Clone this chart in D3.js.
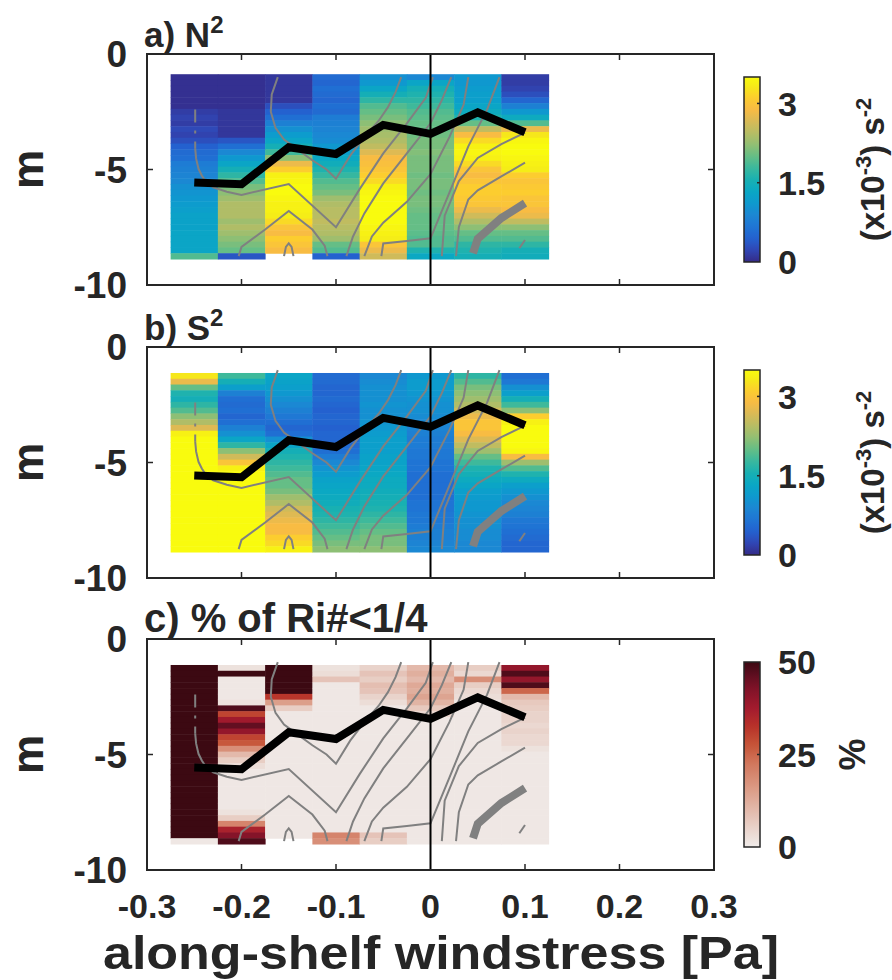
<!DOCTYPE html>
<html>
<head>
<meta charset="utf-8">
<script src="https://cdn.jsdelivr.net/npm/d3@7"></script>
<style>
  body { margin: 0; background: #fff; }
  svg text { font-family: "Liberation Sans", Arial, Helvetica, sans-serif; font-weight: bold; fill: #262626; }
</style>
</head>
<body>
<svg id="chart" width="892" height="980"></svg>
<script>
// bin centres of the wind stress (Pa) and depth (m)
var windstress = [-0.25, -0.2, -0.15, -0.1, -0.05, 0, 0.05, 0.1];
var depthN2 = [-1, -1.25, -1.5, -1.75, -2, -2.25, -2.5, -2.75, -3, -3.25, -3.5, -3.75, -4, -4.25, -4.5, -4.75,
               -5, -5.25, -5.5, -5.75, -6, -6.25, -6.5, -6.75, -7, -7.25, -7.5, -7.75, -8, -8.25, -8.5, -8.75];
var depthS2 = [-1.25, -1.5, -1.75, -2, -2.25, -2.5, -2.75, -3, -3.25, -3.5, -3.75, -4, -4.25, -4.5, -4.75,
               -5, -5.25, -5.5, -5.75, -6, -6.25, -6.5, -6.75, -7, -7.25, -7.5, -7.75, -8, -8.25, -8.5, -8.75];

// N^2 (x10^-3 s^-2), one profile per wind bin
var n2Values = [
  [0.05,0.05,0.05,0.05,0.05,0.05,0.15,0.2,0.15,0.25,0.2,0.3,0.45,0.55,0.6,0.75,0.8,0.85,0.9,1.0,1.05,1.1,1.15,1.2,1.25,1.25,1.25,1.3,1.3,1.3,1.3,1.9],
  [0.05,0.05,0.05,0.05,0.05,0.05,0.1,0.1,0.1,0.1,0.1,0.35,0.6,0.9,1.1,1.3,1.5,1.7,1.9,2.1,2.2,2.3,2.4,2.4,2.4,2.3,2.4,2.3,2.2,2.1,2.0,0.35],
  [0.1,0.1,0.1,0.1,0.1,0.3,0.45,0.6,0.8,1.0,1.15,1.3,1.5,1.8,2.2,2.8,3.1,3.4,3.45,3.5,3.5,3.45,3.4,3.4,3.35,3.2,3.0,2.9,3.1,3.0,2.9,null],
  [0.55,0.5,0.6,0.55,0.5,0.6,0.55,0.75,0.8,0.85,0.9,0.95,1.1,1.2,1.35,1.45,1.6,1.75,1.9,2.0,2.1,2.3,2.4,2.45,2.45,2.5,2.45,2.4,2.3,2.0,1.9,0.45],
  [1.0,1.1,1.3,1.5,1.7,1.9,2.0,2.1,2.2,2.3,2.35,2.4,2.5,2.7,2.9,2.95,3.0,3.1,3.2,3.4,3.45,3.5,3.5,3.5,3.5,3.5,3.45,3.4,3.35,3.0,2.8,2.6],
  [0.9,1.3,1.5,1.6,1.7,1.8,1.9,1.95,2.0,2.0,2.05,2.1,2.1,2.15,2.1,2.1,2.1,2.05,2.1,2.1,2.05,2.1,2.1,2.05,2.0,2.0,2.0,1.95,1.9,1.9,1.6,1.35],
  [1.1,1.1,1.15,1.2,1.2,1.3,1.4,1.6,2.0,2.5,2.9,3.2,3.4,3.45,3.4,3.2,3.0,2.9,3.0,3.1,3.1,3.05,3.0,2.8,2.6,2.4,2.2,2.0,1.9,1.7,1.6,1.5],
  [0.15,0.15,0.2,0.3,0.5,0.8,1.1,1.4,1.9,2.8,3.3,3.45,3.5,3.5,3.45,3.4,3.35,3.1,3.0,3.05,3.1,3.0,3.0,2.9,2.8,2.5,2.2,2.0,1.9,1.7,1.5,1.45]
];

// S^2 (x10^-3 s^-2)
var s2Values = [
  [3.3,2.8,2.0,1.6,1.5,1.7,1.9,2.2,2.4,2.7,3.4,3.5,3.5,3.5,3.5,3.5,3.5,3.5,3.5,3.5,3.5,3.5,3.5,3.5,3.5,3.5,3.5,3.5,3.5,3.5,3.5],
  [1.8,1.5,1.2,0.8,0.6,0.55,0.6,0.5,0.6,0.8,1.0,1.3,1.7,2.2,2.6,3.0,3.4,3.5,3.5,3.5,3.5,3.5,3.5,3.5,3.5,3.5,3.5,3.5,3.5,3.5,3.5],
  [1.3,1.25,1.2,1.1,1.0,0.9,0.8,0.7,0.6,0.5,0.6,1.0,1.3,1.5,1.6,1.7,1.8,1.9,2.0,2.0,2.1,2.3,2.4,2.6,2.7,2.8,2.9,2.9,3.1,3.2,3.4],
  [0.55,0.55,0.5,0.5,0.55,0.5,0.45,0.5,0.5,0.45,0.5,0.5,0.55,0.6,0.75,0.9,1.05,1.15,1.25,1.3,1.35,1.4,1.45,1.55,1.6,1.7,1.8,1.9,2.0,2.1,2.2],
  [0.9,0.95,1.0,1.0,1.0,1.05,1.0,1.0,1.05,1.1,1.15,1.2,1.2,1.2,1.25,1.25,1.3,1.35,1.4,1.4,1.45,1.5,1.55,1.6,1.7,1.8,1.9,2.0,2.1,2.1,2.2],
  [1.1,1.15,1.15,1.1,1.05,1.0,1.0,0.95,0.9,0.85,0.8,0.75,0.75,0.7,0.7,0.65,0.65,0.6,0.6,0.6,0.6,0.6,0.65,0.65,0.7,0.7,0.75,0.8,0.8,0.85,0.9],
  [1.7,1.9,2.1,2.2,2.3,2.4,2.6,2.8,3.0,3.0,2.9,2.7,2.5,2.3,2.0,1.8,1.6,1.5,1.4,1.3,1.2,1.15,1.1,1.1,1.05,1.0,1.0,0.95,0.95,0.9,0.9],
  [0.6,0.7,1.0,1.2,1.5,1.8,2.2,3.1,3.4,3.5,3.5,3.5,3.5,3.45,2.9,2.3,1.9,1.6,1.4,1.2,1.1,1.0,0.9,0.85,0.8,0.7,0.65,0.6,0.55,0.5,0.5]
];

// % of Ri < 1/4
var riValues = [
  [50,50,50,50,50,50,50,50,50,50,50,50,50,50,50,50,50,50,50,50,50,50,50,50,50,50,50,50,50,50,1],
  [2,50,1,1,1,1,2,48,30,38,46,40,30,27,18,10,6,3,1,1,1,1,1,1,1,2,6,20,36,42,48],
  [50,50,50,50,50,32,15,6,1,1,1,1,1,1,1,1,1,1,1,1,1,1,1,1,1,1,1,1,1,1,null],
  [2,3,8,1,1,1,1,1,1,1,1,1,1,1,1,1,1,1,1,1,1,1,1,1,1,1,1,1,1,20,18],
  [5,8,6,9,8,5,3,1,1,1,1,1,1,1,1,1,1,1,1,1,1,1,1,1,1,1,1,1,1,8,6],
  [10,12,10,13,12,14,11,7,4,1,1,1,1,1,1,1,1,1,1,1,1,1,1,1,1,1,1,1,1,1,1],
  [6,4,18,6,4,3,1,1,1,1,1,1,1,1,1,1,1,1,1,1,1,1,1,1,1,1,1,1,1,1,1],
  [40,48,40,48,25,10,7,6,5,5,4,5,4,4,2,1,1,1,1,1,1,1,1,1,1,1,1,1,1,1,1]
];

// mixed layer depth (black line)
var mldDepth = [-5.56, -5.64, -4.04, -4.33, -3.07, -3.46, -2.53, -3.39];

// gray contour lines, [windstress, depth]
var contourDashed = [[-0.249, -2.4], [-0.249, -4.1]];
var contourLines = [
  [[-0.249,-4.1],[-0.248,-4.53],[-0.2455,-4.97],[-0.242,-5.26],[-0.2385,-5.48],[-0.23,-5.77],[-0.2155,-5.96],[-0.2,-6.1],[-0.15,-5.63],[-0.1,-7.5],[-0.075,-5.85],[-0.05,-4.3],[-0.025,-3.0],[-0.005,-1.9],[0.0025,-1.0]],
  [[-0.1616,-1.0],[-0.168,-1.75],[-0.169,-2.5],[-0.164,-3.2],[-0.155,-3.7],[-0.14,-4.15],[-0.125,-4.6],[-0.11,-5.0],[-0.1,-5.4],[-0.085,-4.4],[-0.07,-3.6],[-0.055,-2.9],[-0.045,-2.3],[-0.037,-1.65],[-0.031,-1.0]],
  [[-0.203,-8.75],[-0.2,-8.35],[-0.175,-7.6],[-0.15,-6.8],[-0.125,-7.6],[-0.112,-8.3],[-0.109,-8.75]],
  [[-0.155,-8.75],[-0.153,-8.35],[-0.15,-8.2],[-0.147,-8.35],[-0.145,-8.75]],
  [[-0.089,-8.75],[-0.082,-7.9],[-0.07,-6.9],[-0.05,-5.6],[-0.025,-4.3],[0,-3.0],[0.012,-2.0],[0.022,-1.0]],
  [[-0.07,-8.75],[-0.062,-7.9],[-0.05,-7.3],[-0.025,-6.4],[0,-5.2],[0.02,-3.6],[0.035,-2.2],[0.04,-1.0]],
  [[-0.052,-8.75],[-0.05,-8.2],[-0.025,-8.1],[0,-7.98],[0.02,-6.0],[0.04,-4.0],[0.06,-2.4],[0.073,-1.0]],
  [[0.012,-8.75],[0.015,-7.0],[0.03,-5.5],[0.05,-4.5],[0.075,-3.9],[0.1,-3.4]],
  [[0.027,-8.75],[0.03,-7.5],[0.04,-6.3],[0.05,-5.9],[0.075,-5.3],[0.1,-4.7]],
  [[0.094,-8.41],[0.1,-8.05]]
];
var contourThick = [[0.045,-8.63],[0.05,-8.0],[0.075,-7.1],[0.1,-6.46]];

var xTicks = [-0.3, -0.2, -0.1, 0, 0.1, 0.2, 0.3];
var yTicks = [0, -5, -10];
var cbTicksN2 = [0, 1.5, 3];
var cbTicksRi = [0, 25, 50];

// colormaps
var parulaStops = [0, 0.0635, 0.127, 0.19, 0.254, 0.317, 0.381, 0.444, 0.508, 0.571, 0.635, 0.698, 0.762, 0.825, 0.889, 0.952, 1];
var parulaColors = ["#352a87","#3046b4","#2461cf","#1f75d4","#1c87d3","#0e99cf","#0aa7c4","#18b0b2","#3ab89d",
                    "#65be86","#92bf73","#b7bd64","#d9ba56","#f8bb44","#fcce2e","#f5eb18","#f9fb0e"];
var ampStops = [0, 0.15, 0.3, 0.45, 0.55, 0.65, 0.75, 0.85, 0.93, 1];
var ampColors = ["#f0ecea","#e6c6bb","#dc9f8a","#d1775d","#c65538","#b83229","#a31b2e","#821328","#5e0e20","#3c0912"];

function makeColor(stops, colors, max) {
  return d3.scaleLinear()
    .domain(stops.map(function(t) { return t * max; }))
    .range(colors)
    .clamp(true);
}

var svg = d3.select("#chart");
var defs = svg.append("defs");

var left = 147, right = 714, panelHeight = 231;
var x = d3.scaleLinear().domain([-0.3, 0.3]).range([left, right]);

var panels = [
  { id: "a", top: 54,  label: "a) N", sup: "2", titleSize: 35, values: n2Values, depths: depthN2,
    color: makeColor(parulaStops, parulaColors, 3.5), max: 3.5, cbTicks: cbTicksN2, cbUnit: "s2" },
  { id: "b", top: 347, label: "b) S", sup: "2", titleSize: 35, values: s2Values, depths: depthS2,
    color: makeColor(parulaStops, parulaColors, 3.5), max: 3.5, cbTicks: cbTicksN2, cbUnit: "s2" },
  { id: "c", top: 639, label: "c) % of Ri#<1/4", sup: "", titleSize: 40, values: riValues, depths: depthS2,
    color: makeColor(ampStops, ampColors, 50), max: 50, cbTicks: cbTicksRi, cbUnit: "pct" }
];

panels.forEach(function(p, pi) {
  var y = d3.scaleLinear().domain([0, -10]).range([p.top, p.top + panelHeight]);
  var g = svg.append("g").attr("class", "panel-" + p.id);

  // heatmap cells
  var dx = (windstress[1] - windstress[0]) / 2;
  var dz = (p.depths[0] - p.depths[1]) / 2;
  var cells = [];
  p.values.forEach(function(col, i) {
    col.forEach(function(v, j) {
      if (v != null) cells.push({ xc: windstress[i], zc: p.depths[j], v: v });
    });
  });
  g.append("g").selectAll("rect")
    .data(cells)
    .enter().append("rect")
    .attr("x", function(d) { return x(d.xc - dx); })
    .attr("width", function(d) { return x(d.xc + dx) - x(d.xc - dx) + 0.5; })
    .attr("y", function(d) { return y(d.zc + dz); })
    .attr("height", function(d) { return y(d.zc - dz) - y(d.zc + dz) + 0.5; })
    .attr("fill", function(d) { return p.color(d.v); });

  // contours
  var line = d3.line()
    .x(function(d) { return x(d[0]); })
    .y(function(d) { return y(d[1]); });

  g.append("path")
    .attr("d", line(contourDashed))
    .attr("fill", "none")
    .attr("stroke", "#808080")
    .attr("stroke-width", 2)
    .attr("stroke-dasharray", "13,8,3,8");

  g.append("g").selectAll("path")
    .data(contourLines)
    .enter().append("path")
    .attr("d", line)
    .attr("fill", "none")
    .attr("stroke", "#808080")
    .attr("stroke-width", 2);

  g.append("path")
    .attr("d", line(contourThick))
    .attr("fill", "none")
    .attr("stroke", "#808080")
    .attr("stroke-width", 8);

  // mixed layer depth
  g.append("path")
    .attr("d", line(windstress.map(function(w, i) { return [w, mldDepth[i]]; })))
    .attr("fill", "none")
    .attr("stroke", "#000")
    .attr("stroke-width", 8)
    .attr("stroke-linejoin", "miter");

  // zero wind line
  g.append("line")
    .attr("x1", x(0)).attr("x2", x(0))
    .attr("y1", y(0)).attr("y2", y(-10))
    .attr("stroke", "#000")
    .attr("stroke-width", 2);

  // inward ticks
  var ticks = g.append("g");
  [-0.2, -0.1, 0.1, 0.2].forEach(function(t) {
    ticks.append("line").attr("x1", x(t)).attr("x2", x(t)).attr("y1", y(0)).attr("y2", y(0) + 6)
      .attr("stroke", "#262626").attr("stroke-width", 1.5);
    ticks.append("line").attr("x1", x(t)).attr("x2", x(t)).attr("y1", y(-10)).attr("y2", y(-10) - 6)
      .attr("stroke", "#262626").attr("stroke-width", 1.5);
  });
  ticks.append("line").attr("x1", left).attr("x2", left + 6).attr("y1", y(-5)).attr("y2", y(-5))
    .attr("stroke", "#262626").attr("stroke-width", 1.5);
  ticks.append("line").attr("x1", right).attr("x2", right - 6).attr("y1", y(-5)).attr("y2", y(-5))
    .attr("stroke", "#262626").attr("stroke-width", 1.5);

  // box
  g.append("rect")
    .attr("x", left).attr("y", y(0))
    .attr("width", right - left).attr("height", y(-10) - y(0))
    .attr("fill", "none")
    .attr("stroke", "#262626")
    .attr("stroke-width", 2);

  // y tick labels
  g.selectAll(".ytick")
    .data(yTicks)
    .enter().append("text")
    .attr("x", 127)
    .attr("y", function(d) { return y(d); })
    .attr("dy", "0.36em")
    .attr("text-anchor", "end")
    .style("font-size", "37px")
    .text(function(d) { return String(d); });

  // y label
  g.append("text")
    .attr("transform", "translate(43," + (p.top + panelHeight / 2) + ") rotate(-90)")
    .attr("text-anchor", "middle")
    .style("font-size", "44px")
    .text("m");

  // title
  var title = g.append("text")
    .attr("x", 144)
    .attr("y", p.top - 7)
    .style("font-size", p.titleSize + "px")
    .text(p.label);
  if (p.sup) {
    title.append("tspan").attr("dy", -14).style("font-size", "24px").text(p.sup);
  }

  // colorbar
  var cbTop = p.top + 23, cbHeight = 185, cbX = 744, cbW = 16;
  var cbScale = d3.scaleLinear().domain([0, p.max]).range([cbTop + cbHeight, cbTop]);
  var grad = defs.append("linearGradient")
    .attr("id", "grad-" + p.id)
    .attr("x1", 0).attr("y1", 1).attr("x2", 0).attr("y2", 0);
  d3.range(0, 1.0001, 0.02).forEach(function(t) {
    grad.append("stop").attr("offset", t).attr("stop-color", p.color(t * p.max));
  });
  g.append("rect")
    .attr("x", cbX).attr("y", cbTop)
    .attr("width", cbW).attr("height", cbHeight)
    .attr("fill", "url(#grad-" + p.id + ")")
    .attr("stroke", "#262626")
    .attr("stroke-width", 1.5);
  p.cbTicks.forEach(function(t) {
    if (t > 0 && t < p.max) {
      g.append("line")
        .attr("x1", cbX + cbW - 3).attr("x2", cbX + cbW)
        .attr("y1", cbScale(t)).attr("y2", cbScale(t))
        .attr("stroke", "#262626").attr("stroke-width", 1.5);
    }
  });
  g.selectAll(".cbtick")
    .data(p.cbTicks)
    .enter().append("text")
    .attr("x", 778)
    .attr("y", function(d) { return cbScale(d); })
    .attr("dy", "0.36em")
    .style("font-size", "34px")
    .text(function(d) { return String(d); });

  if (p.cbUnit === "s2") {
    var unit = g.append("text")
      .attr("transform", "translate(884," + (p.top + panelHeight / 2) + ") rotate(-90)")
      .attr("text-anchor", "middle")
      .style("font-size", "33px");
    unit.append("tspan").text("(x10");
    unit.append("tspan").attr("dy", -13).style("font-size", "22px").text("-3");
    unit.append("tspan").attr("dy", 13).text(") s");
    unit.append("tspan").attr("dy", -13).style("font-size", "22px").text("-2");
  } else {
    g.append("text")
      .attr("transform", "translate(865," + (p.top + panelHeight / 2) + ") rotate(-90)")
      .attr("text-anchor", "middle")
      .style("font-size", "36px")
      .text("%");
  }

  // x tick labels on the last panel
  if (pi === panels.length - 1) {
    g.selectAll(".xtick")
      .data(xTicks)
      .enter().append("text")
      .attr("x", function(d) { return x(d); })
      .attr("y", y(-10) + 48)
      .attr("text-anchor", "middle")
      .style("font-size", "34px")
      .text(function(d) { return String(d); });
  }
});

svg.append("text")
  .attr("x", 441)
  .attr("y", 969)
  .attr("text-anchor", "middle")
  .attr("textLength", 676)
  .attr("lengthAdjust", "spacingAndGlyphs")
  .style("font-size", "47px")
  .text("along-shelf windstress [Pa]");
</script>
</body>
</html>
